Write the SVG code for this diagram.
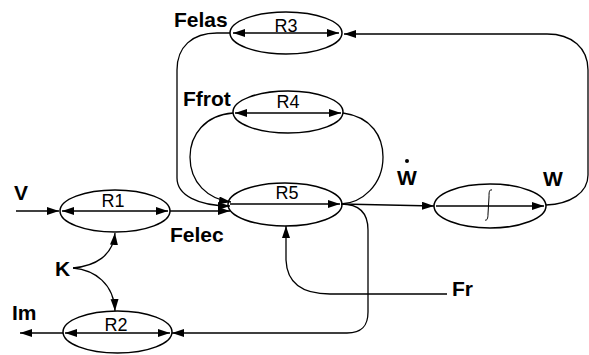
<svg xmlns="http://www.w3.org/2000/svg" width="589" height="355" viewBox="0 0 589 355">
<style>
.node ellipse{fill:none;stroke:#000;stroke-width:1.5}
.in{stroke:#000;stroke-width:1.3;fill:none}
.lbl{font-family:"Liberation Sans",Arial,sans-serif;font-size:18px;fill:#000;text-anchor:middle}
.bl{font-family:"Liberation Sans",Arial,sans-serif;font-size:21px;font-weight:bold;fill:#000}
#connectors path{stroke:#000;stroke-width:1.3;fill:none}
</style>
<defs>
<marker id="ah" markerUnits="userSpaceOnUse" markerWidth="13" markerHeight="9" refX="12" refY="4" orient="auto-start-reverse">
<path d="M0,0 L12,4 L0,8 z" fill="#000"/>
</marker>
</defs>
<rect width="589" height="355" fill="#fff"/>

<g id="R1" class="node">
<ellipse cx="115" cy="211" rx="55" ry="21"/>
<path class="in" d="M62,211 L168,211" marker-start="url(#ah)" marker-end="url(#ah)"/>
<text class="lbl" x="113" y="207">R1</text>
</g>
<g id="R2" class="node">
<ellipse cx="117.5" cy="332" rx="54.5" ry="21"/>
<path class="in" d="M65,333 L170,333" marker-start="url(#ah)" marker-end="url(#ah)"/>
<text class="lbl" x="116" y="331">R2</text>
</g>
<g id="R3" class="node">
<ellipse cx="286" cy="33" rx="56" ry="21"/>
<path class="in" d="M233,33 L339,33" marker-start="url(#ah)" marker-end="url(#ah)"/>
<text class="lbl" x="286" y="32">R3</text>
</g>
<g id="R4" class="node">
<ellipse cx="288" cy="112" rx="55" ry="21"/>
<path class="in" d="M235,113 L341,113" marker-start="url(#ah)" marker-end="url(#ah)"/>
<text class="lbl" x="288" y="108">R4</text>
</g>
<g id="R5" class="node">
<ellipse cx="285" cy="204.5" rx="57" ry="21.5"/>
<path class="in" d="M230,204 L340,204" marker-end="url(#ah)"/>
<text class="lbl" x="287" y="199">R5</text>
</g>
<g id="INT" class="node">
<ellipse cx="490" cy="206" rx="56" ry="22"/>
<path class="in" d="M436,206 L544,206" marker-end="url(#ah)"/>
<path d="M492,190 C489,189 489,193 489,197 L488,214 C488,218 487,221 485,220" stroke="#000" stroke-width="1" fill="none"/>
</g>

<g id="labels">
<text class="bl" x="14" y="200">V</text>
<text class="bl" x="55" y="276">K</text>
<text class="bl" x="12" y="320">Im</text>
<text class="bl" x="170" y="242">Felec</text>
<text class="bl" x="174" y="27">Felas</text>
<text class="bl" x="183" y="106">Ffrot</text>
<text class="bl" x="397" y="185">W</text>
<circle cx="407" cy="161" r="2" fill="#000"/>
<text class="bl" x="543" y="186">W</text>
<text class="bl" x="452" y="296">Fr</text>
</g>

<g id="connectors">
<path d="M16,211 L59,211" marker-end="url(#ah)"/>
<path d="M170,211 L230,211" marker-end="url(#ah)"/>
<path d="M63,333 L20,333" marker-end="url(#ah)"/>
<path d="M73,268 C95,266 113,256 115,233" marker-end="url(#ah)"/>
<path d="M73,268 C95,270 114,284 115,311" marker-end="url(#ah)"/>
<path d="M230,33 L217,33 C192,33 177,47 177,70 L177,178 C177,195 198,206 230,206" marker-end="url(#ah)"/>
<path d="M233,113 C205,115 190,135 190,157 C190,183 208,199 231,202" marker-end="url(#ah)"/>
<path d="M343,113 C372,117 383,137 383,157 C383,185 362,203 341,204"/>
<path d="M341,204 L434,206" marker-end="url(#ah)"/>
<path d="M546,205 C570,204 588,193 588,175 L588,70 C588,48 572,34 547,34 L344,34" marker-end="url(#ah)"/>
<path d="M341,204 C358,204 368,212 368,230 L368,312 C368,326 362,333 347,333 L172,333" marker-end="url(#ah)"/>
<path d="M447,294 L330,294 C305,294 287,285 286,260 L286,226" marker-end="url(#ah)"/>
</g>
</svg>
